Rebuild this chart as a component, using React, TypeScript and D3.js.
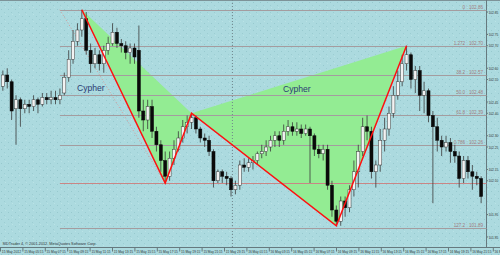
import React from "react";
import * as d3 from "d3";

// OHLC candles (EURJPY-style quotes)
const opens = [102.52,102.57,102.54,102.42,102.46,102.42,102.44,102.43,102.46,102.44,102.47,102.46,102.47,102.46,102.49,102.56,102.64,102.72,102.77,102.82,102.68,102.62,102.66,102.62,102.68,102.71,102.76,102.71,102.70,102.67,102.69,102.68,102.41,102.37,102.43,102.32,102.26,102.19,102.12,102.20,102.24,102.29,102.34,102.36,102.38,102.33,102.29,102.28,102.23,102.10,102.14,102.12,102.11,102.06,102.08,102.17,102.16,102.18,102.19,102.22,102.23,102.25,102.28,102.30,102.28,102.32,102.34,102.32,102.33,102.31,102.33,102.30,102.24,102.22,102.24,102.08,101.97,101.92,102.01,101.98,102.06,102.14,102.23,102.34,102.32,102.14,102.17,102.28,102.33,102.40,102.48,102.54,102.62,102.66,102.55,102.59,102.48,102.50,102.39,102.34,102.28,102.25,102.27,102.23,102.21,102.11,102.19,102.14,102.12,102.11];
const highs = [102.59,102.60,102.55,102.48,102.47,102.46,102.46,102.48,102.47,102.49,102.49,102.50,102.50,102.51,102.58,102.68,102.77,102.80,102.86,102.85,102.71,102.69,102.68,102.70,102.74,102.80,102.78,102.73,102.72,102.71,102.71,102.79,102.46,102.46,102.46,102.34,102.28,102.23,102.23,102.28,102.32,102.37,102.39,102.40,102.39,102.34,102.31,102.30,102.24,102.15,102.15,102.14,102.12,102.10,102.19,102.20,102.20,102.21,102.23,102.26,102.28,102.30,102.32,102.32,102.35,102.37,102.36,102.36,102.35,102.35,102.34,102.31,102.26,102.26,102.26,102.10,101.99,102.03,102.03,102.08,102.19,102.26,102.38,102.39,102.34,102.19,102.33,102.38,102.43,102.52,102.59,102.66,102.70,102.67,102.61,102.61,102.54,102.51,102.41,102.38,102.30,102.30,102.29,102.26,102.23,102.21,102.21,102.17,102.14,102.12];
const lows = [102.50,102.51,102.37,102.26,102.34,102.40,102.40,102.41,102.40,102.43,102.44,102.44,102.44,102.44,102.48,102.54,102.62,102.70,102.74,102.66,102.58,102.60,102.59,102.58,102.66,102.70,102.69,102.67,102.64,102.62,102.62,102.38,102.32,102.33,102.29,102.23,102.14,102.09,102.10,102.17,102.23,102.27,102.31,102.33,102.31,102.27,102.25,102.21,102.07,102.09,102.09,102.08,102.03,102.04,102.06,102.14,102.14,102.15,102.17,102.20,102.21,102.23,102.25,102.25,102.26,102.30,102.30,102.30,102.29,102.30,102.09,102.21,102.20,102.19,102.06,101.94,101.90,101.90,101.94,101.96,102.03,102.07,102.21,102.28,102.11,102.07,102.14,102.23,102.30,102.38,102.46,102.52,102.59,102.51,102.49,102.41,102.40,102.36,102.00,102.23,102.21,102.23,102.18,102.18,102.07,102.09,102.11,102.06,102.08,102.00];
const closes = [102.57,102.54,102.41,102.46,102.42,102.44,102.43,102.46,102.44,102.47,102.46,102.47,102.46,102.48,102.56,102.64,102.72,102.77,102.82,102.68,102.62,102.66,102.62,102.68,102.71,102.76,102.71,102.70,102.67,102.69,102.65,102.41,102.37,102.43,102.32,102.26,102.19,102.12,102.20,102.24,102.29,102.34,102.36,102.38,102.33,102.29,102.28,102.23,102.10,102.14,102.12,102.11,102.06,102.08,102.17,102.16,102.18,102.19,102.22,102.23,102.25,102.28,102.30,102.28,102.32,102.34,102.32,102.33,102.31,102.33,102.30,102.24,102.22,102.24,102.08,101.97,101.92,102.01,101.98,102.06,102.14,102.23,102.34,102.32,102.14,102.17,102.28,102.33,102.40,102.48,102.54,102.62,102.66,102.55,102.59,102.48,102.50,102.39,102.34,102.28,102.25,102.27,102.23,102.21,102.11,102.19,102.14,102.12,102.11,102.03];

// Cypher pattern pivots X, A, B, C, D (candle index, price)
const pivotIndex = [18, 37, 43, 76, 92];
const pivotPrice = [102.86, 102.09, 102.40, 101.90, 102.70];

// Fibonacci levels drawn from the X-A swing
const fibNames = ["0", "1.272", "38.2", "50.0", "61.8", "0.786", "127.2"];
const fibPrices = [102.86, 102.70, 102.57, 102.48, 102.39, 102.26, 101.89];
const fibAnchorIndex = 13;

// Price scale labels
const priceTicks = [102.85, 102.75, 102.70, 102.60, 102.55, 102.45, 102.40, 102.30, 102.25, 102.15, 102.10, 101.95, 101.85];

// Time scale labels (hours since 15 May 00:00)
const timeHours = d3.range(3.25, 47.3, 2);
const timeLabels = ["15 May 2012","15 May 05:15","15 May 07:15","15 May 09:15","15 May 11:15","15 May 13:15","15 May 15:15","15 May 17:15","15 May 19:15","15 May 21:15","15 May 23:15","16 May 01:15","16 May 03:15","16 May 05:15","16 May 07:15","16 May 09:15","16 May 11:15","16 May 13:15","16 May 15:15","16 May 17:15","16 May 19:15","16 May 21:15","16 May 23:15"];
const daySeparatorHour = 24;

const W = 500;
const H = 255;
const plotRight = 486.5;
const plotBottom = 247.5;

export default function App() {
  const n = closes.length;
  const x = d3.scaleBand<number>().domain(d3.range(n)).range([0, 484]).padding(0.3);
  const cx = (i: number) => (x(i) as number) + x.bandwidth() / 2;
  const y = d3.scaleLinear().domain([101.85, 102.85]).range([237, 12]);
  const t = d3.scaleLinear().domain([3.25, 5.25]).range([0, 22.4]);

  const pts = pivotIndex.map((idx, k) => [cx(idx), y(pivotPrice[k])] as [number, number]);
  const line = d3.line();
  const tri1 = line([pts[0], pts[1], pts[2]]) + "Z";
  const tri2 = line([pts[2], pts[3], pts[4]]) + "Z";
  const fibX0 = cx(fibAnchorIndex);

  return (
    <div style={{ position: "fixed", left: 0, top: 0, width: W, height: H }}>
      <svg width={W} height={H} style={{ display: "block", fontFamily: "'Liberation Sans', Arial, sans-serif" }}>
        <defs>
          <pattern id="speckle" width="7" height="7" patternUnits="userSpaceOnUse">
            <rect x="1" y="2" width="1" height="1" fill="#7fb3bb" opacity="0.45" />
            <rect x="4" y="5" width="1" height="1" fill="#7fb3bb" opacity="0.35" />
            <rect x="5" y="0" width="1" height="1" fill="#c8ecee" opacity="0.5" />
          </pattern>
        </defs>
        <rect width={W} height={H} fill="#acdadf" />
        <rect width={W} height={H} fill="url(#speckle)" />

        {/* pattern triangles */}
        <path d={tri1} fill="#93ec93" />
        <path d={tri2} fill="#93ec93" />

        {/* frame */}
        <line x1={0} x2={W} y1={0.5} y2={0.5} stroke="#7d9398" />
        <line x1={plotRight} x2={plotRight} y1={0} y2={plotBottom} stroke="#66797e" />
        <line x1={0} x2={W} y1={plotBottom} y2={plotBottom} stroke="#66797e" />

        {/* day separator */}
        <line x1={t(daySeparatorHour)} x2={t(daySeparatorHour)} y1={0} y2={plotBottom} stroke="#6f858b" strokeDasharray="1,2" />

        {/* fibonacci levels */}
        {fibPrices.map((p, k) => (
          <g key={"f" + k}>
            <line x1={fibX0} x2={plotRight} y1={Math.round(y(p)) + 0.5} y2={Math.round(y(p)) + 0.5} stroke="#a49c9f" strokeWidth={1} />
            <text x={483} y={Math.round(y(p)) - 1} textAnchor="end" fontSize={4.6} fill="#a07c80">
              {fibNames[k] + " : " + p.toFixed(2)}
            </text>
          </g>
        ))}
        <line x1={fibX0} x2={plotRight} y1={Math.round(y(pivotPrice[1])) + 0.5} y2={Math.round(y(pivotPrice[1])) + 0.5} stroke="#c98686" strokeWidth={1} />
        <line x1={fibX0} y1={y(fibPrices[0])} x2={cx(pivotIndex[1])} y2={y(pivotPrice[1])} stroke="#d49a9a" strokeDasharray="1,2" />

        {/* candles */}
        {closes.map((c, i) => {
          const o = opens[i];
          const up = c >= o;
          const top = y(Math.max(o, c));
          const h = Math.max(1, y(Math.min(o, c)) - top);
          return (
            <g key={"c" + i}>
              <line x1={cx(i)} x2={cx(i)} y1={y(highs[i])} y2={y(lows[i])} stroke="#3a3a3a" strokeWidth={0.8} />
              <rect x={x(i)} y={top} width={x.bandwidth()} height={h}
                fill={up ? "#f2f2f2" : "#0a0a0a"} stroke={up ? "#3a3a3a" : "#0a0a0a"} strokeWidth={0.5} />
            </g>
          );
        })}

        {/* pattern legs */}
        <path d={line(pts) as string} fill="none" stroke="#ff1010" strokeWidth={1.5} strokeLinejoin="miter" />

        <text x={77} y={90.5} fontSize={8.6} fill="#2b3a73">Cypher</text>
        <text x={283} y={91.5} fontSize={8.6} fill="#2b3a73">Cypher</text>

        {/* price axis */}
        {priceTicks.map((p) => (
          <g key={"p" + p}>
            <line x1={plotRight} x2={plotRight + 1.5} y1={y(p)} y2={y(p)} stroke="#66797e" />
            <text x={488.5} y={y(p) + 1.5} fontSize={4} textLength={9.8} lengthAdjust="spacingAndGlyphs" fill="#2c3436">{p.toFixed(2)}</text>
          </g>
        ))}

        {/* time axis */}
        {timeHours.map((hr, k) => (
          <g key={"t" + k}>
            <line x1={t(hr) + 0.5} x2={t(hr) + 0.5} y1={plotBottom} y2={plotBottom + 4} stroke="#66797e" />
            <text x={t(hr) + 1.8} y={252.5} fontSize={3.9} textLength={19.2} lengthAdjust="spacingAndGlyphs" fill="#2c3436">{timeLabels[k]}</text>
          </g>
        ))}

        <text x={2.5} y={245} fontSize={4} textLength={94} lengthAdjust="spacingAndGlyphs" fill="#2c3436">SIDTrader 4, © 2001-2012, MetaQuotes Software Corp.</text>
      </svg>
    </div>
  );
}
